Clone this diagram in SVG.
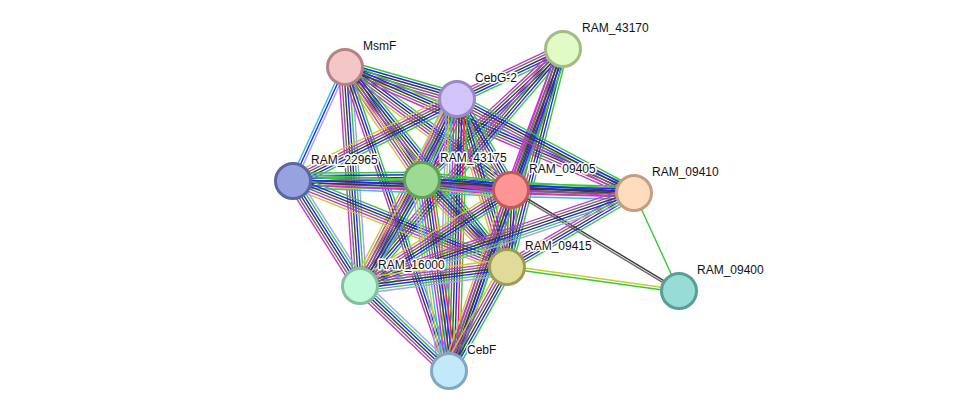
<svg xmlns="http://www.w3.org/2000/svg" xmlns:xlink="http://www.w3.org/1999/xlink" width="976" height="417" viewBox="0 0 976 417">
<style>
line{stroke-width:1.4;fill:none}
.n{stroke:#39c739}.f{stroke:#ff2020}.o{stroke:#2424ff}.x{stroke:#3a3a3a}.g{stroke:#6a6a6a}
.e{stroke:#d030d0}.d{stroke:#30c0e0}.t{stroke:#c6cc2e}.h{stroke:#a0a0ff}
.node circle{stroke-width:3}
.node text{font-family:"Liberation Sans",Arial,sans-serif;font-size:12px;fill:#111;paint-order:stroke;stroke:#fff;stroke-width:3px;stroke-linejoin:round}
</style>
<defs>
<g id="b_noxge"><line class="n" x1="0" x2="1" y1="-5.2" y2="-5.2"/><line class="o" x1="0" x2="1" y1="-2.6" y2="-2.6"/><line class="x" x1="0" x2="1" y1="0" y2="0"/><line class="g" x1="0" x2="1" y1="2.6" y2="2.6"/><line class="e" x1="0" x2="1" y1="5.2" y2="5.2"/></g>
<g id="b_noxget"><line class="n" x1="0" x2="1" y1="-6.5" y2="-6.5"/><line class="o" x1="0" x2="1" y1="-3.9" y2="-3.9"/><line class="x" x1="0" x2="1" y1="-1.3" y2="-1.3"/><line class="g" x1="0" x2="1" y1="1.3" y2="1.3"/><line class="e" x1="0" x2="1" y1="3.9" y2="3.9"/><line class="t" x1="0" x2="1" y1="6.5" y2="6.5"/></g>
<g id="b_hnoxge"><line class="h" x1="0" x2="1" y1="-6.5" y2="-6.5"/><line class="n" x1="0" x2="1" y1="-3.9" y2="-3.9"/><line class="o" x1="0" x2="1" y1="-1.3" y2="-1.3"/><line class="x" x1="0" x2="1" y1="1.3" y2="1.3"/><line class="g" x1="0" x2="1" y1="3.9" y2="3.9"/><line class="e" x1="0" x2="1" y1="6.5" y2="6.5"/></g>
<g id="b_big"><line class="n" x1="0" x2="1" y1="-10.4" y2="-10.4"/><line class="f" x1="0" x2="1" y1="-7.8" y2="-7.8"/><line class="o" x1="0" x2="1" y1="-5.2" y2="-5.2"/><line class="x" x1="0" x2="1" y1="-2.6" y2="-2.6"/><line class="g" x1="0" x2="1" y1="0" y2="0"/><line class="e" x1="0" x2="1" y1="2.6" y2="2.6"/><line class="d" x1="0" x2="1" y1="5.2" y2="5.2"/><line class="t" x1="0" x2="1" y1="7.8" y2="7.8"/><line class="h" x1="0" x2="1" y1="10.4" y2="10.4"/></g>
<g id="b_hod"><line class="h" x1="0" x2="1" y1="-2.6" y2="-2.6"/><line class="o" x1="0" x2="1" y1="0" y2="0"/><line class="d" x1="0" x2="1" y1="2.6" y2="2.6"/></g>
<g id="b_noxged"><line class="n" x1="0" x2="1" y1="-6.5" y2="-6.5"/><line class="o" x1="0" x2="1" y1="-3.9" y2="-3.9"/><line class="x" x1="0" x2="1" y1="-1.3" y2="-1.3"/><line class="g" x1="0" x2="1" y1="1.3" y2="1.3"/><line class="e" x1="0" x2="1" y1="3.9" y2="3.9"/><line class="d" x1="0" x2="1" y1="6.5" y2="6.5"/></g>
<g id="b_noxe"><line class="n" x1="0" x2="1" y1="-3.9" y2="-3.9"/><line class="o" x1="0" x2="1" y1="-1.3" y2="-1.3"/><line class="x" x1="0" x2="1" y1="1.3" y2="1.3"/><line class="e" x1="0" x2="1" y1="3.9" y2="3.9"/></g>
<g id="b_xg"><line class="x" x1="0" x2="1" y1="-1.1" y2="-1.1"/><line class="g" x1="0" x2="1" y1="1.1" y2="1.1"/></g>
<g id="b_n"><line class="n" x1="0" x2="1" y1="0" y2="0"/></g>
<g id="b_tn"><line class="t" x1="0" x2="1" y1="-1.3" y2="-1.3"/><line class="n" x1="0" x2="1" y1="1.3" y2="1.3"/></g>
<g id="b_hnoxget"><line class="h" x1="0" x2="1" y1="-7.8" y2="-7.8"/><line class="n" x1="0" x2="1" y1="-5.2" y2="-5.2"/><line class="o" x1="0" x2="1" y1="-2.6" y2="-2.6"/><line class="x" x1="0" x2="1" y1="0" y2="0"/><line class="g" x1="0" x2="1" y1="2.6" y2="2.6"/><line class="e" x1="0" x2="1" y1="5.2" y2="5.2"/><line class="t" x1="0" x2="1" y1="7.8" y2="7.8"/></g>
<g id="b_noxgedt"><line class="n" x1="0" x2="1" y1="-7.8" y2="-7.8"/><line class="o" x1="0" x2="1" y1="-5.2" y2="-5.2"/><line class="x" x1="0" x2="1" y1="-2.6" y2="-2.6"/><line class="g" x1="0" x2="1" y1="0" y2="0"/><line class="e" x1="0" x2="1" y1="2.6" y2="2.6"/><line class="d" x1="0" x2="1" y1="5.2" y2="5.2"/><line class="t" x1="0" x2="1" y1="7.8" y2="7.8"/></g>
</defs>
<rect width="976" height="417" fill="#fff"/>
<g id="connectors">
<use href="#b_noxget" transform="translate(345 67) rotate(15.95) scale(116.5 1)"/>
<use href="#b_hod" transform="translate(345 67) rotate(114.53) scale(125.3 1)"/>
<use href="#b_noxget" transform="translate(345 67) rotate(55.73) scale(136.7 1)"/>
<use href="#b_noxget" transform="translate(345 67) rotate(36.54) scale(206.6 1)"/>
<use href="#b_noxge" transform="translate(345 67) rotate(23.56) scale(315.3 1)"/>
<use href="#b_noxget" transform="translate(345 67) rotate(51.0) scale(257.4 1)"/>
<use href="#b_hnoxge" transform="translate(345 67) rotate(86.08) scale(219.5 1)"/>
<use href="#b_noxe" transform="translate(345 67) rotate(71.11) scale(321.3 1)"/>
<use href="#b_noxge" transform="translate(563 49) rotate(154.75) scale(117.2 1)"/>
<use href="#b_noxge" transform="translate(563 49) rotate(137.11) scale(192.5 1)"/>
<use href="#b_noxge" transform="translate(563 49) rotate(110.24) scale(150.3 1)"/>
<use href="#b_noxge" transform="translate(563 49) rotate(104.41) scale(225.1 1)"/>
<use href="#b_noxge" transform="translate(563 49) rotate(130.58) scale(312.1 1)"/>
<use href="#b_noxge" transform="translate(563 49) rotate(109.50) scale(341.6 1)"/>
<use href="#b_noxget" transform="translate(457 99) rotate(153.43) scale(183.4 1)"/>
<use href="#b_big" transform="translate(457 99) rotate(113.37) scale(88.2 1)"/>
<use href="#b_noxget" transform="translate(457 99) rotate(59.32) scale(105.8 1)"/>
<use href="#b_noxge" transform="translate(457 99) rotate(27.97) scale(200.4 1)"/>
<use href="#b_noxget" transform="translate(457 99) rotate(73.43) scale(175.3 1)"/>
<use href="#b_hnoxget" transform="translate(457 99) rotate(117.41) scale(210.7 1)"/>
<use href="#b_big" transform="translate(457 99) rotate(91.68) scale(272.1 1)"/>
<use href="#b_noxgedt" transform="translate(293 181) rotate(-0.44) scale(129 1)"/>
<use href="#b_noxged" transform="translate(293 181) rotate(2.36) scale(218.2 1)"/>
<use href="#b_noxe" transform="translate(293 181) rotate(2.02) scale(341.2 1)"/>
<use href="#b_noxget" transform="translate(293 181) rotate(21.90) scale(230.6 1)"/>
<use href="#b_hnoxge" transform="translate(293 181) rotate(57.46) scale(124.6 1)"/>
<use href="#b_noxgedt" transform="translate(422 180) rotate(6.41) scale(89.6 1)"/>
<use href="#b_noxe" transform="translate(422 180) rotate(3.51) scale(212.4 1)"/>
<use href="#b_noxget" transform="translate(422 180) rotate(45.67) scale(121.6 1)"/>
<use href="#b_noxget" transform="translate(422 180) rotate(120.32) scale(122.8 1)"/>
<use href="#b_big" transform="translate(422 180) rotate(81.95) scale(192.9 1)"/>
<use href="#b_noxged" transform="translate(511 190) rotate(1.40) scale(123 1)"/>
<use href="#b_noxget" transform="translate(511 190) rotate(92.97) scale(77.1 1)"/>
<use href="#b_noxget" transform="translate(511 190) rotate(147.55) scale(178.9 1)"/>
<use href="#b_xg" transform="translate(511 190) rotate(31.02) scale(196 1)"/>
<use href="#b_noxget" transform="translate(511 190) rotate(108.91) scale(191.3 1)"/>
<use href="#b_noxge" transform="translate(634 193) rotate(149.77) scale(147 1)"/>
<use href="#b_hnoxge" transform="translate(634 193) rotate(161.26) scale(289.4 1)"/>
<use href="#b_n" transform="translate(634 193) rotate(65.34) scale(107.8 1)"/>
<use href="#b_hnoxget" transform="translate(507 267) rotate(172.64) scale(148.2 1)"/>
<use href="#b_tn" transform="translate(507 267) rotate(7.94) scale(173.7 1)"/>
<use href="#b_noxget" transform="translate(507 267) rotate(119.15) scale(119.1 1)"/>
<use href="#b_hnoxge" transform="translate(360 286) rotate(43.68) scale(123.1 1)"/>
</g>
<g id="MsmF" class="node"><circle cx="345" cy="67" r="17.5" fill="#f5c6c6" stroke="#b48484"/><text x="363" y="50">MsmF</text></g>
<g id="RAM_43170" class="node"><circle cx="563" cy="49" r="17.5" fill="#e0fbc6" stroke="#a4bc84"/><text x="582" y="32">RAM_43170</text></g>
<g id="CebG-2" class="node"><circle cx="457" cy="99" r="17.5" fill="#d3c5fb" stroke="#9a88c8"/><text x="475" y="82">CebG-2</text></g>
<g id="RAM_22965" class="node"><circle cx="293" cy="181" r="17.5" fill="#97a3e0" stroke="#5c66a0"/><text x="311" y="164">RAM_22965</text></g>
<g id="RAM_43175" class="node"><circle cx="422" cy="180" r="17.5" fill="#9ddb94" stroke="#62a05a"/><text x="440" y="162">RAM_43175</text></g>
<g id="RAM_09405" class="node"><circle cx="511" cy="190" r="17.5" fill="#fd9595" stroke="#c05a5a"/><text x="529" y="173">RAM_09405</text></g>
<g id="RAM_09410" class="node"><circle cx="634" cy="193" r="17.5" fill="#fedcbd" stroke="#c0a080"/><text x="652" y="176">RAM_09410</text></g>
<g id="RAM_09415" class="node"><circle cx="507" cy="267" r="17.5" fill="#dfdc99" stroke="#a09c58"/><text x="525" y="250">RAM_09415</text></g>
<g id="RAM_16000" class="node"><circle cx="360" cy="286" r="17.5" fill="#c1fadb" stroke="#84c0a0"/><text x="378" y="269">RAM_16000</text></g>
<g id="RAM_09400" class="node"><circle cx="679" cy="291" r="17.5" fill="#97ddd5" stroke="#5a9e96"/><text x="697" y="274">RAM_09400</text></g>
<g id="CebF" class="node"><circle cx="449" cy="371" r="17.5" fill="#c2e8fc" stroke="#80a8c0"/><text x="467" y="354">CebF</text></g>
</svg>
